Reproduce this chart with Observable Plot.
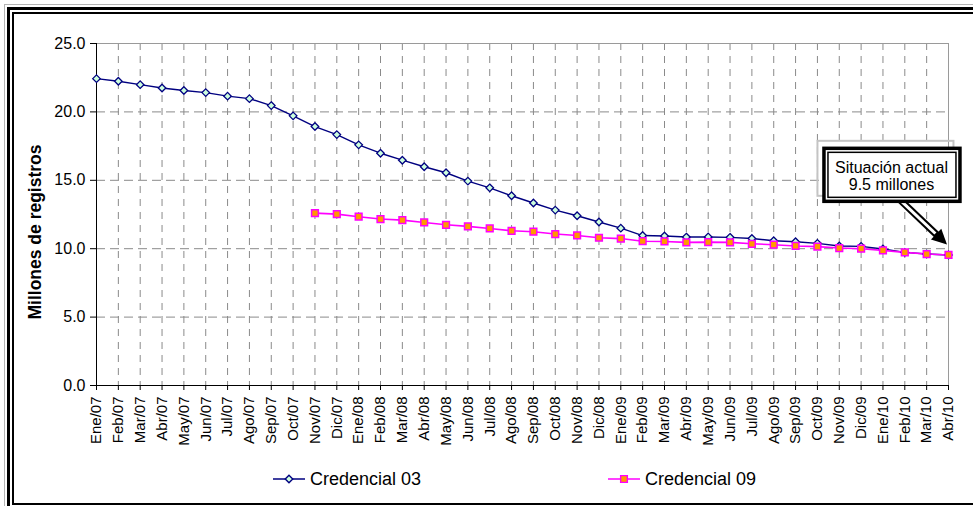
<!DOCTYPE html>
<html><head><meta charset="utf-8">
<script src="https://cdn.jsdelivr.net/npm/d3@7"></script>
<script src="https://cdn.jsdelivr.net/npm/@observablehq/plot@0.6"></script>
<style>
html,body{margin:0;padding:0;background:#fff;overflow:hidden;}
#wrap{position:relative;width:973px;height:506px;overflow:hidden;font-family:"Liberation Sans",Arial,sans-serif;background:#fff;}
.b{position:absolute;box-sizing:border-box;}
#ylab{position:absolute;left:35px;top:232px;transform:translate(-50%,-50%) rotate(-90deg);white-space:nowrap;font-weight:bold;font-size:17.5px;color:#000;}
#chart{position:absolute;left:0;top:0;}
#legend{position:absolute;left:0;top:464px;}
</style></head><body>
<div id="wrap">
  <div class="b" style="left:4px;top:4px;width:1000px;height:540px;border:1.5px solid #b4b4b4"></div>
  <div class="b" style="left:7px;top:7px;width:1000px;height:540px;border:3px solid #000"></div>
  <div class="b" style="left:12px;top:12px;width:1000px;height:493px;border:2.5px solid #000"></div>
  <div id="chart"></div>
  <div id="ylab">Millones de registros</div>
  <svg id="legend" width="973" height="30"></svg>
</div>
<script>
const months = ["Ene/07","Feb/07","Mar/07","Abr/07","May/07","Jun/07","Jul/07","Ago/07","Sep/07","Oct/07","Nov/07","Dic/07",
  "Ene/08","Feb/08","Mar/08","Abr/08","May/08","Jun/08","Jul/08","Ago/08","Sep/08","Oct/08","Nov/08","Dic/08",
  "Ene/09","Feb/09","Mar/09","Abr/09","May/09","Jun/09","Jul/09","Ago/09","Sep/09","Oct/09","Nov/09","Dic/09",
  "Ene/10","Feb/10","Mar/10","Abr/10"];
const cred03 = [22.43,22.24,21.99,21.75,21.56,21.41,21.15,20.97,20.46,19.71,18.93,18.34,
  17.59,16.98,16.47,15.99,15.55,14.94,14.45,13.87,13.34,12.82,12.41,11.95,
  11.50,10.96,10.93,10.85,10.86,10.83,10.75,10.58,10.51,10.39,10.20,10.17,
  9.98,9.73,9.61,9.54];
const cred09Start = "Nov/07";
const cred09 = [12.60,12.53,12.34,12.17,12.09,11.92,11.75,11.63,11.48,11.31,11.24,11.07,10.97,10.80,
  10.74,10.55,10.53,10.46,10.48,10.46,10.36,10.29,10.20,10.15,10.05,10.00,9.88,9.73,9.61,9.54];
const yTicks = [0,5,10,15,20,25];
const seriesNames = ["Credencial 03","Credencial 09"];
const annoLines = ["Situación actual","9.5 millones"];
const annoX = "Ene/10", annoY = 15.4;

const t03 = months.map((m,i)=>({m, v:cred03[i]}));
const s9 = months.indexOf(cred09Start);
const t09 = cred09.map((v,i)=>({m:months[s9+i], v}));

const FONT = "'Liberation Sans', Arial, sans-serif";
const marks = [
  Plot.gridX(months, {stroke:"#8a8a8a", strokeOpacity:1, strokeDasharray:"7,6"}),
  Plot.gridY(yTicks, {stroke:"#8a8a8a", strokeOpacity:1, strokeDasharray:"9,5"}),
  Plot.frame({stroke:"#9a9a9a"}),
  Plot.ruleY([0], {stroke:"#000"}),
  Plot.ruleX([months[0]], {stroke:"#000"}),
  Plot.axisY(yTicks, {tickFormat:d3.format(".1f"), tickSize:6, tickPadding:5, fontSize:16, label:null}),
  Plot.axisX(months, {tickRotate:-90, tickSize:5, tickPadding:6, fontSize:15, label:null}),
  Plot.line(t03, {x:"m", y:"v", stroke:"#000080", strokeWidth:1.4}),
  Plot.line(t09, {x:"m", y:"v", stroke:"#ff00ff", strokeWidth:1.6}),
  Plot.dot(t03, {x:"m", y:"v", symbol:"diamond2", r:3.4, fill:"#ccffdd", stroke:"#000080", strokeWidth:1.3}),
  Plot.dot(t09, {x:"m", y:"v", symbol:"square", r:3.8, fill:"#ff9900", stroke:"#ff00ff", strokeWidth:1.5})
];
const plot = Plot.plot({
  width:973, height:460,
  marginLeft:96, marginRight:25, marginTop:43, marginBottom:75,
  style:{fontFamily:FONT, fontSize:"15px", color:"#000", background:"transparent", overflow:"visible"},
  x:{type:"point", domain:months, padding:0},
  y:{domain:[0,25]},
  marks
});
document.getElementById("chart").appendChild(plot);

// annotation positioned through the plot's scales
const sx = plot.scale("x"), sy = plot.scale("y");
const cx = sx.apply(annoX) + 8, cy = sy.apply(annoY);
const last = t09[t09.length-1];
const px = sx.apply(last.m), py = sy.apply(last.v);
const svg = d3.select(plot);
const g = svg.append("g");
// arrow
const x0 = cx + 10, y0 = cy + 26, x1 = px - 1, y1 = py - 10;
const dx = x1-x0, dy = y1-y0, L = Math.hypot(dx,dy), ux = dx/L, uy = dy/L, nx = -uy, ny = ux;
const hl = 15, hw = 7.5;
const bx = x1 - ux*hl, by = y1 - uy*hl;
g.append("line").attr("x1",x0).attr("y1",y0).attr("x2",bx+ux).attr("y2",by+uy).attr("stroke","#000").attr("stroke-width",7);
g.append("line").attr("x1",x0).attr("y1",y0).attr("x2",bx-ux*1).attr("y2",by-uy*1).attr("stroke","#fff").attr("stroke-width",3);
g.append("path").attr("d",`M${x1},${y1}L${bx+nx*hw},${by+ny*hw}L${bx-nx*hw},${by-ny*hw}Z`).attr("fill","#000");
// boxes
g.append("rect").attr("x",cx-73).attr("y",cy-33.5).attr("width",136).attr("height",55).attr("fill","none").attr("stroke","#c4c4c4").attr("stroke-width",2);
g.append("rect").attr("x",cx-66.5).attr("y",cy-26).attr("width",136).attr("height",53).attr("fill","#fff").attr("stroke","#000").attr("stroke-width",3.5);
g.append("rect").attr("x",cx-62.5).attr("y",cy-22).attr("width",128).attr("height",45).attr("fill","#fff").attr("stroke","#000").attr("stroke-width",1.5);
annoLines.forEach((s,i)=>{
  g.append("text").attr("x",cx+1).attr("y",cy-7+i*17.5).attr("dy","0.35em").attr("text-anchor","middle")
   .attr("font-size",16).attr("font-family",FONT).attr("fill","#000").text(s);
});

// legend
const lg = d3.select("#legend");
const items = [
  {x:273, name:seriesNames[0], stroke:"#000080", fill:"#ccffdd", sym:d3.symbolDiamond2, size:36},
  {x:608, name:seriesNames[1], stroke:"#ff00ff", fill:"#ff9900", sym:d3.symbolSquare, size:45}
];
items.forEach(it=>{
  lg.append("line").attr("x1",it.x).attr("x2",it.x+32).attr("y1",15).attr("y2",15).attr("stroke",it.stroke).attr("stroke-width",1.5);
  lg.append("path").attr("transform",`translate(${it.x+16},15)`).attr("d",d3.symbol(it.sym,it.size)()).attr("fill",it.fill).attr("stroke",it.stroke).attr("stroke-width",1.4);
  lg.append("text").attr("x",it.x+37).attr("y",15).attr("dy","0.35em").attr("font-size",18).attr("font-family",FONT).attr("fill","#000").text(it.name);
});
</script>
</body></html>
